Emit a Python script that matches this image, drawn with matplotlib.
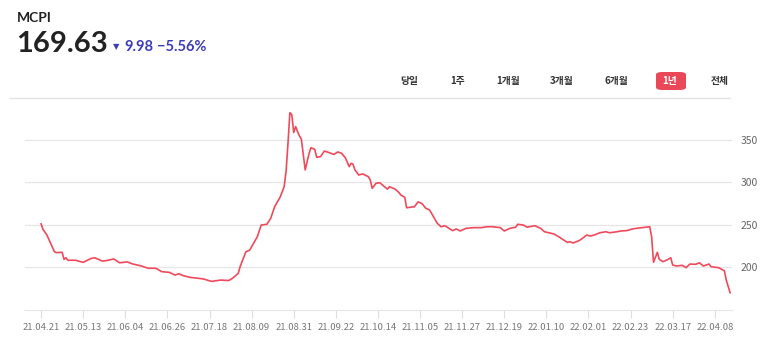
import numpy as np
import matplotlib
matplotlib.use("Agg")
import matplotlib.pyplot as plt
import matplotlib.dates as mdates
from matplotlib.patches import FancyBboxPatch

plt.rcParams['font.family'] = ['Noto Sans CJK KR', 'DejaVu Sans']

dates = ["2021-04-21", "2021-04-22", "2021-04-24", "2021-04-26", "2021-04-28", "2021-04-29",
         "2021-05-02", "2021-05-03", "2021-05-04", "2021-05-05", "2021-05-09", "2021-05-13",
         "2021-05-17", "2021-05-19", "2021-05-23", "2021-05-25", "2021-05-29", "2021-06-01",
         "2021-06-05", "2021-06-08", "2021-06-12", "2021-06-16", "2021-06-20", "2021-06-23",
         "2021-06-27", "2021-06-30", "2021-07-02", "2021-07-04", "2021-07-08", "2021-07-11",
         "2021-07-15", "2021-07-19", "2021-07-22", "2021-07-24", "2021-07-28", "2021-07-30",
         "2021-08-02", "2021-08-03", "2021-08-05", "2021-08-06", "2021-08-08", "2021-08-10",
         "2021-08-12", "2021-08-14", "2021-08-17", "2021-08-19", "2021-08-21", "2021-08-24",
         "2021-08-26", "2021-08-27", "2021-08-28", "2021-08-29", "2021-08-30", "2021-08-31",
         "2021-09-01", "2021-09-02", "2021-09-03", "2021-09-04", "2021-09-06", "2021-09-08",
         "2021-09-09", "2021-09-11", "2021-09-12", "2021-09-14", "2021-09-16", "2021-09-18",
         "2021-09-21", "2021-09-23", "2021-09-25", "2021-09-27", "2021-09-29", "2021-09-30",
         "2021-10-01", "2021-10-02", "2021-10-04", "2021-10-06", "2021-10-09", "2021-10-10",
         "2021-10-11", "2021-10-13", "2021-10-15", "2021-10-17", "2021-10-19", "2021-10-20",
         "2021-10-23", "2021-10-25", "2021-10-26", "2021-10-28", "2021-10-29", "2021-11-01",
         "2021-11-02", "2021-11-04", "2021-11-06", "2021-11-08", "2021-11-10", "2021-11-12",
         "2021-11-14", "2021-11-16", "2021-11-18", "2021-11-22", "2021-11-24", "2021-11-26",
         "2021-11-29", "2021-12-03", "2021-12-07", "2021-12-10", "2021-12-13", "2021-12-17",
         "2021-12-19", "2021-12-22", "2021-12-25", "2021-12-26", "2021-12-29", "2021-12-31",
         "2022-01-01", "2022-01-04", "2022-01-07", "2022-01-09", "2022-01-14", "2022-01-17",
         "2022-01-21", "2022-01-22", "2022-01-24", "2022-01-27", "2022-01-29", "2022-01-31",
         "2022-02-02", "2022-02-04", "2022-02-07", "2022-02-10", "2022-02-12", "2022-02-16",
         "2022-02-18", "2022-02-21", "2022-02-24", "2022-02-26", "2022-03-03", "2022-03-05",
         "2022-03-06", "2022-03-07", "2022-03-09", "2022-03-10", "2022-03-12", "2022-03-14",
         "2022-03-16", "2022-03-17", "2022-03-19", "2022-03-22", "2022-03-24", "2022-03-26",
         "2022-03-29", "2022-03-31", "2022-04-02", "2022-04-05", "2022-04-06", "2022-04-10",
         "2022-04-13", "2022-04-14", "2022-04-16"]

prices = [251, 244.5, 238, 228, 218, 217,
          217.4, 209, 211, 208, 208, 205.5,
          210, 211, 207, 207.5, 209.5, 205,
          206, 203.5, 201.5, 198.5, 198.5, 194.5,
          193.7, 190.5, 192, 190, 187.7, 187,
          185.8, 183, 184, 184.6, 184, 186.6,
          192.5, 200.4, 212, 218, 220, 228,
          235.8, 249.6, 250.5, 257.6, 271, 283,
          295, 312.6, 346, 382.4, 380, 359,
          366, 360, 355, 351, 314.7, 334,
          341, 339, 329.7, 330.4, 337, 335.6,
          333, 336, 334.4, 329, 318.6, 322.6,
          321.4, 314.7, 308.7, 310, 306.8, 302.9,
          293, 299, 299.6, 295.7, 292, 294.9,
          292, 288, 285, 282.4, 270, 271,
          271, 277, 275, 269.4, 267.4, 259.5,
          251.7, 247.6, 248.8, 243, 245, 242.6,
          245.7, 246.5, 246.5, 247.6, 247.6, 246.5,
          242.6, 245.7, 247, 250.5, 249.6, 247,
          247.6, 248.8, 245.7, 241.7, 239, 235,
          229, 230, 228.4, 231, 234, 237.8,
          236.6, 237.8, 240.5, 241.7, 240.5, 241.7,
          242.6, 243, 245, 245.7, 247, 247.6,
          236, 205.6, 217.4, 209, 206.3, 208.3,
          211, 202.4, 201.2, 202, 199.2, 203.5,
          203.2, 205, 201.2, 203.5, 200.4, 199.2,
          195.6, 184.6, 169.63]

tick_dates = ["2021-04-21", "2021-05-13", "2021-06-04", "2021-06-26", "2021-07-18", "2021-08-09",
              "2021-08-31", "2021-09-22", "2021-10-14", "2021-11-05", "2021-11-27", "2021-12-19",
              "2022-01-10", "2022-02-01", "2022-02-23", "2022-03-17", "2022-04-08"]
y_ticks = [200, 250, 300, 350]
periods = ["당일", "1주", "1개월", "3개월", "6개월", "1년", "전체"]
period_x = [409, 458, 508, 562, 616, 670, 720]

W, H = 773, 338
fig = plt.figure(figsize=(W / 100, H / 100), dpi=100)
ax = fig.add_axes([25 / W, 1 - 310 / H, 707 / W, 208 / H])

x = np.array(dates, dtype="datetime64[D]")
ax.plot(mdates.date2num(x), prices, color="#ef4a5c", lw=1.2)

start = mdates.date2num(np.datetime64("2021-04-21"))
ax.set_xlim(start - 8.4, start + 361)
ax.set_ylim(149.2, 395)

xt = mdates.date2num(np.array(tick_dates, dtype="datetime64[D]"))
ax.set_xticks(xt)
ax.set_xticklabels([d[2:].replace("-", ".") for d in tick_dates])
ax.set_yticks(y_ticks)
ax.yaxis.tick_right()
ax.tick_params(axis="y", length=0, pad=6, labelsize=7.5, labelcolor="#666666")
ax.tick_params(axis="x", length=6, width=0.8, color="#dddddd", pad=3,
               labelsize=6.8, labelcolor="#777777")
ax.grid(axis="y", color="#e6e6e6", lw=0.9)
ax.set_axisbelow(True)
for s in ["top", "left", "right"]:
    ax.spines[s].set_visible(False)
ax.spines["bottom"].set_color("#e6e6e6")

# header
fig.text(17 / W, 1 - 18 / H, "MCPI", fontsize=10, fontweight="bold", color="#222222",
         va="center", family="Lato")
fig.text(16 / W, 1 - 44 / H, "169.63", fontsize=21, fontweight="bold", color="#222222",
         va="center", family="Lato")
fig.text(113 / W, 1 - 47 / H, "▼", fontsize=6, color="#3c3cb8", va="center", family="DejaVu Sans")
fig.text(124 / W, 1 - 47 / H, "9.98", fontsize=10.5, fontweight="bold", color="#3c3cb8",
         va="center", family="Lato")
fig.text(157 / W, 1 - 47 / H, "−5.56%", fontsize=10.5, fontweight="bold", color="#3c3cb8",
         va="center", family=["Lato", "DejaVu Sans"])

fig.add_artist(FancyBboxPatch((656 / W, 1 - 90 / H), 30 / W, 18 / H,
                              boxstyle="round,pad=0,rounding_size=0.008",
                              transform=fig.transFigure, fc="#ea4858", ec="none"))
for lab, px in zip(periods, period_x):
    c = "white" if lab == "1년" else "#333333"
    fig.text(px / W, 1 - 81 / H, lab, fontsize=7, fontweight="bold", color=c, ha="center", va="center")

fig.add_artist(plt.Line2D([10 / W, 730 / W], [1 - 98 / H, 1 - 98 / H], transform=fig.transFigure,
                          color="#e3e3e3", lw=1))

fig.savefig("out.png", dpi=100)
